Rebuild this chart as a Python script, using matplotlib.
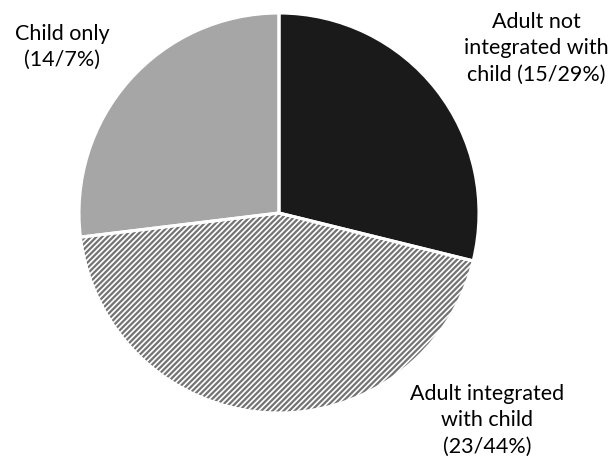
import matplotlib.pyplot as plt

plt.rcParams['font.family'] = ['Lato', 'DejaVu Sans']
plt.rcParams['hatch.linewidth'] = 1.6

groups = ['Adult not\nintegrated with\nchild (15/29%)',
          'Adult integrated\nwith child\n(23/44%)',
          'Child only\n(14/7%)']
counts = [15, 23, 14]
colours = ['#1a1a1a', 'white', '#a6a6a6']
hatches = ['', '//////', '']

fig = plt.figure(figsize=(6.09, 4.63), dpi=100)
ax = fig.add_axes([0, 0, 1, 1])
ax.set_aspect('equal')
ax.axis('off')

# fill + hatch first (hatch takes the edge colour), then white separators on top
wedges, _ = ax.pie(counts, center=(279, 250), radius=200, startangle=90,
                   counterclock=False, colors=colours,
                   wedgeprops=dict(linewidth=0, edgecolor='#737373'))
for w, h in zip(wedges, hatches):
    w.set_hatch(h)
ax.pie(counts, center=(279, 250), radius=200, startangle=90, counterclock=False,
       wedgeprops=dict(linewidth=2.2, edgecolor='white', fill=False))
ax.set_xlim(0, 609)
ax.set_ylim(0, 463)

txt = dict(ha='center', va='center', fontsize=15.5, linespacing=1.4)
ax.text(536, 415, groups[0], **txt)
ax.text(487, 43, groups[1], **txt)
ax.text(62, 416, groups[2], **txt)

fig.savefig('out.png', dpi=100)
